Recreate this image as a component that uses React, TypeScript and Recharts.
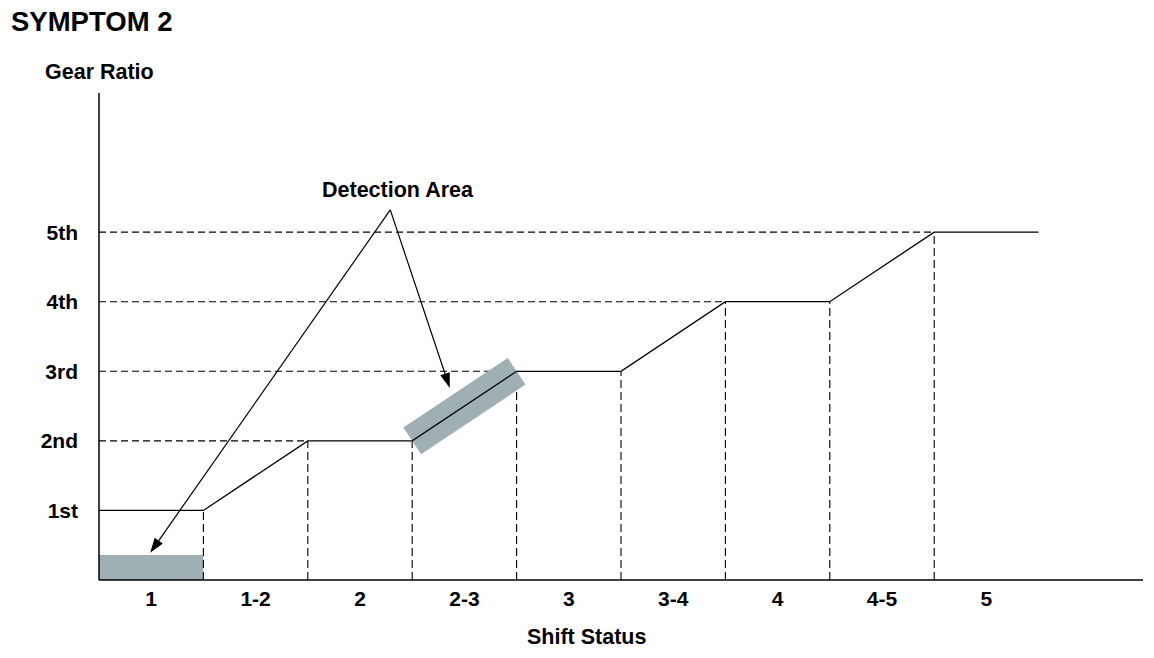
import {
  LineChart,
  Line,
  XAxis,
  YAxis,
  ReferenceLine,
  ReferenceArea,
} from 'recharts'

const shiftStatus = ['1', '1-2', '2', '2-3', '3', '3-4', '4', '4-5', '5']
const gearLabels = ['1st', '2nd', '3rd', '4th', '5th']

// gear ratio trace: x is the boundary index between shift states, y is the gear level
const traceX = [0, 1, 2, 3, 4, 5, 6, 7, 8, 9]
const traceGear = [1, 1, 2, 2, 3, 3, 4, 4, 5, 5]

// detection area: lower box under "1" and the highlighted 2-3 upshift
const boxFrom = 0
const boxTo = 1
const boxHeight = 0.36
const bandFrom = 3
const bandTo = 4
const calloutApex = { x: 2.79, y: 5.32 }
const calloutTargets = [
  { x: 0.49, y: 0.39 },
  { x: 3.36, y: 2.76 },
]

const GREY = '#a0afb4'
const FONT = '"Liberation Sans", Arial, sans-serif'

const traceData = traceX.map((x, i) => ({ x, gear: traceGear[i] }))
const bandData = traceData.filter(d => d.x >= bandFrom && d.x <= bandTo)

// horizontal dashed guides: from the y axis to where each gear is first reached
const hGuides = [2, 3, 4, 5].map(g => ({
  gear: g,
  x: traceX[traceGear.indexOf(g)],
}))
// vertical dashed guides: from the x axis up to the trace at each boundary
const vGuides = traceX.slice(1, 9).map((x, i) => ({ x, gear: traceGear[i + 1] }))

const Arrow = (props: any) => {
  const { x1, y1, x2, y2 } = props
  const ang = Math.atan2(y2 - y1, x2 - x1)
  const len = 15
  const half = 5
  const bx = x2 - len * Math.cos(ang)
  const by = y2 - len * Math.sin(ang)
  const px = -Math.sin(ang) * half
  const py = Math.cos(ang) * half
  return (
    <g>
      <line x1={x1} y1={y1} x2={bx} y2={by} stroke="#000" strokeWidth={1.2} />
      <polygon
        points={`${x2},${y2} ${bx + px},${by + py} ${bx - px},${by - py}`}
        fill="#000"
      />
    </g>
  )
}

const XTick = ({ x, y, payload }: any) => (
  <text
    x={x}
    y={y + 26}
    textAnchor="middle"
    fontFamily={FONT}
    fontWeight="bold"
    fontSize={21}
    fill="#000"
  >
    {shiftStatus[Math.floor(payload.value)]}
  </text>
)

const YTick = ({ x, y, payload }: any) => (
  <text
    x={x - 21}
    y={y}
    dy="0.36em"
    textAnchor="end"
    fontFamily={FONT}
    fontWeight="bold"
    fontSize={21}
    fill="#000"
  >
    {gearLabels[payload.value - 1]}
  </text>
)

const textStyle = {
  position: 'absolute' as const,
  fontFamily: FONT,
  fontWeight: 'bold' as const,
  color: '#000',
  whiteSpace: 'nowrap' as const,
  lineHeight: 1,
}

export default function App() {
  return (
    <div style={{ position: 'absolute', left: 0, top: 0, width: 1154, height: 658, background: '#fff' }}>
      <div style={{ ...textStyle, left: 11, top: 8, fontSize: 27.5 }}>SYMPTOM 2</div>
      <div style={{ ...textStyle, left: 45, top: 62, fontSize: 21.5 }}>Gear Ratio</div>
      <div style={{ ...textStyle, left: 322, top: 180, fontSize: 21.5 }}>Detection Area</div>
      <div style={{ ...textStyle, left: 527, top: 627, fontSize: 21.5 }}>Shift Status</div>

      <LineChart
        width={1154}
        height={658}
        margin={{ top: 93, right: 11, bottom: 38, left: 39 }}
      >
        <XAxis
          type="number"
          dataKey="x"
          domain={[0, 10]}
          ticks={shiftStatus.map((_, i) => i + 0.5)}
          tick={<XTick />}
          tickLine={false}
          tickSize={0}
          tickMargin={0}
          height={40}
          stroke="#000"
          strokeWidth={1.5}
          allowDataOverflow
        />
        <YAxis
          type="number"
          domain={[0, 7]}
          ticks={[1, 2, 3, 4, 5]}
          tick={<YTick />}
          tickLine={false}
          tickSize={0}
          tickMargin={0}
          width={60}
          stroke="#000"
          strokeWidth={1.5}
          allowDataOverflow
        />

        <ReferenceArea
          x1={boxFrom}
          x2={boxTo}
          y1={0}
          y2={boxHeight}
          fill={GREY}
          fillOpacity={1}
          stroke="none"
        />

        {hGuides.map(h => (
          <ReferenceLine
            key={`h-${h.gear}`}
            segment={[{ x: 0, y: h.gear }, { x: h.x, y: h.gear }]}
            stroke="#000"
            strokeWidth={1.1}
            strokeDasharray="7 4"
          />
        ))}
        {vGuides.map(v => (
          <ReferenceLine
            key={`v-${v.x}`}
            segment={[{ x: v.x, y: 0 }, { x: v.x, y: v.gear }]}
            stroke="#000"
            strokeWidth={1.1}
            strokeDasharray="8 4"
          />
        ))}

        <Line
          data={bandData}
          dataKey="gear"
          type="linear"
          stroke={GREY}
          strokeWidth={32}
          strokeLinecap="butt"
          dot={false}
          activeDot={false}
          isAnimationActive={false}
        />
        <Line
          data={traceData}
          dataKey="gear"
          type="linear"
          stroke="#000"
          strokeWidth={1.3}
          dot={false}
          activeDot={false}
          isAnimationActive={false}
        />

        {calloutTargets.map((t, i) => (
          <ReferenceLine
            key={`arrow-${i}`}
            segment={[calloutApex, t]}
            shape={<Arrow />}
            ifOverflow="visible"
          />
        ))}
      </LineChart>
    </div>
  )
}
